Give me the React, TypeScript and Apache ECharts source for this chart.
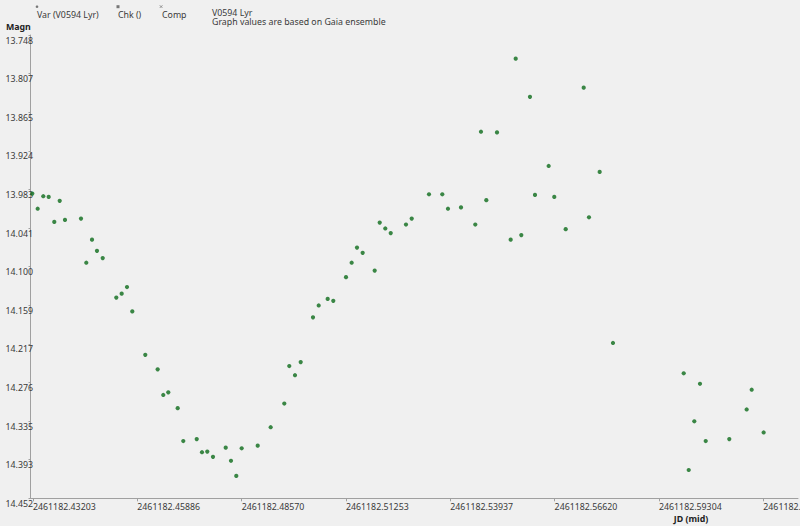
import React, { useEffect, useRef } from "react";
import * as echarts from "echarts";

// Julian dates (mid) of observations
const jd = [
  2461182.43185, 2461182.43324, 2461182.43468, 2461182.43607, 2461182.43751, 2461182.4389,
  2461182.44026, 2461182.44438, 2461182.44574, 2461182.44721, 2461182.44849, 2461182.44996,
  2461182.45346, 2461182.45484, 2461182.45621, 2461182.45757, 2461182.46091, 2461182.4641,
  2461182.46554, 2461182.46683, 2461182.46925, 2461182.47069, 2461182.47414, 2461182.4755,
  2461182.47686, 2461182.47833, 2461182.4816, 2461182.48296, 2461182.48432, 2461182.48571,
  2461182.48983, 2461182.49317, 2461182.49667, 2461182.49795, 2461182.49942, 2461182.50089,
  2461182.50405, 2461182.50552, 2461182.50783, 2461182.50927, 2461182.51254, 2461182.514,
  2461182.51537, 2461182.51683, 2461182.51992, 2461182.52121, 2461182.52265, 2461182.52404,
  2461182.52797, 2461182.52944, 2461182.53389, 2461182.53731, 2461182.53877, 2461182.54212,
  2461182.54579, 2461182.54726, 2461182.54863, 2461182.55138, 2461182.5549, 2461182.55619,
  2461182.55763, 2461182.55986, 2461182.56115, 2461182.56467, 2461182.56611, 2461182.56905,
  2461182.57368, 2461182.57504, 2461182.57779, 2461182.58121, 2461182.5994, 2461182.60069,
  2461182.60213, 2461182.60359, 2461182.60506, 2461182.61113, 2461182.6156, 2461182.61689,
  2461182.61997,
];

// Magnitudes of Var (V0594 Lyr)
const magn = [
  13.989, 14.012, 13.993, 13.994, 14.032, 14.0, 14.029, 14.027, 14.094, 14.059, 14.076, 14.087,
  14.147, 14.141, 14.131, 14.168, 14.234, 14.256, 14.295, 14.291, 14.315, 14.365, 14.362, 14.382,
  14.381, 14.389, 14.375, 14.395, 14.418, 14.376, 14.372, 14.344, 14.308, 14.251, 14.265, 14.245,
  14.177, 14.159, 14.149, 14.152, 14.116, 14.094, 14.071, 14.079, 14.106, 14.033, 14.042, 14.049,
  14.036, 14.027, 13.99, 13.99, 14.012, 14.01, 14.036, 13.895, 13.999, 13.896, 14.059, 13.784,
  14.052, 13.842, 13.991, 13.947, 13.994, 14.043, 13.828, 14.025, 13.956, 14.216, 14.262, 14.409,
  14.335, 14.278, 14.365, 14.362, 14.317, 14.287, 14.352,
];

const xTicks = [
  2461182.43203, 2461182.45886, 2461182.4857, 2461182.51253, 2461182.53937, 2461182.5662,
  2461182.59304, 2461182.61987,
];
const yTicks = [
  13.748, 13.8067, 13.8653, 13.924, 13.9827, 14.0413, 14.1, 14.1587, 14.2173, 14.276, 14.3347,
  14.3933, 14.452,
];

const legendItems = ["Var (V0594 Lyr)", "Chk ()", "Comp"];
const titleLines = ["V0594 Lyr", "Graph values are based on Gaia ensemble"];

const FONT = "Noto Sans";
const FS = 8.8;
const TXT = "#3a3a3a";
const AX = "#a0a0a0";

export default function App() {
  const ref = useRef<HTMLDivElement>(null);
  useEffect(() => {
    if (!ref.current) return;
    const chart = echarts.init(ref.current, null, { renderer: "svg" });
    const legendX = [37, 118, 162];
    const option: any = {
      animation: false,
      backgroundColor: "#f0f0f0",
      grid: {
        left: 30.5,
        top: 35,
        right: 2,
        bottom: 27.7,
        containLabel: false,
        outerBoundsMode: "none",
      },
      xAxis: {
        type: "value",
        min: 2461182.43139,
        max: 2461182.6288,
        axisLine: { show: true, lineStyle: { color: AX } },
        axisTick: { show: true, customValues: xTicks, length: 3, lineStyle: { color: AX } },
        splitLine: { show: false },
        axisLabel: {
          customValues: xTicks,
          formatter: (v: number) => v.toFixed(5),
          align: "left",
          verticalAlign: "top",
          margin: 4,
          lineHeight: 10,
          color: TXT,
          fontSize: FS,
          fontFamily: FONT,
          hideOverlap: false,
        },
      },
      yAxis: {
        type: "value",
        inverse: true,
        min: 13.748,
        max: 14.452,
        axisLine: { show: true, lineStyle: { color: AX } },
        axisTick: { show: true, customValues: yTicks, length: 2, lineStyle: { color: AX } },
        splitLine: { show: false },
        axisLabel: {
          customValues: yTicks,
          formatter: (v: number) => v.toFixed(3),
          align: "right",
          verticalAlign: "top",
          margin: -2.5,
          padding: [1, 0, 0, 0],
          color: TXT,
          fontSize: FS,
          fontFamily: FONT,
          hideOverlap: false,
        },
      },
      series: [
        {
          type: "scatter",
          name: legendItems[0],
          data: jd.map((x, i) => [x, magn[i]]),
          symbol: "circle",
          symbolSize: 4.2,
          itemStyle: { color: "#0d6b1a" },
        },
      ],
      graphic: [
        // legend markers
        { type: "circle", shape: { cx: 37, cy: 6.7, r: 1.3 }, style: { fill: "#777" } },
        { type: "rect", shape: { x: 116.5, y: 5.2, width: 3, height: 3 }, style: { fill: "#777" } },
        { type: "line", shape: { x1: 159.8, y1: 5.3, x2: 162.4, y2: 7.9 }, style: { stroke: "#777", lineWidth: 0.8 } },
        { type: "line", shape: { x1: 159.8, y1: 7.9, x2: 162.4, y2: 5.3 }, style: { stroke: "#777", lineWidth: 0.8 } },
        ...legendItems.map((t, i) => ({
          type: "text",
          x: legendX[i],
          y: 15,
          style: { text: t, fill: TXT, font: `${FS}px "${FONT}"`, textVerticalAlign: "middle", textAlign: "left" },
        })),
        {
          type: "text",
          x: 212,
          y: 8,
          style: {
            text: titleLines.join("\n"),
            fill: TXT,
            font: `${FS}px "${FONT}"`,
            lineHeight: 9,
            textVerticalAlign: "top",
            textAlign: "left",
          },
        },
        {
          type: "text",
          x: 6,
          y: 27,
          style: { text: "Magn", fill: "#222", font: `bold ${FS}px "${FONT}"`, textVerticalAlign: "middle", textAlign: "left" },
        },
        {
          type: "text",
          x: 691,
          y: 519,
          style: { text: "JD (mid)", fill: "#222", font: `bold ${FS}px "${FONT}"`, lineHeight: 9, textVerticalAlign: "middle", textAlign: "center" },
        },
      ],
    };
    chart.setOption(option);
    return () => chart.dispose();
  }, []);
  return (
    <div
      ref={ref}
      style={{ position: "fixed", left: 0, top: 0, width: 800, height: 526 }}
    />
  );
}
